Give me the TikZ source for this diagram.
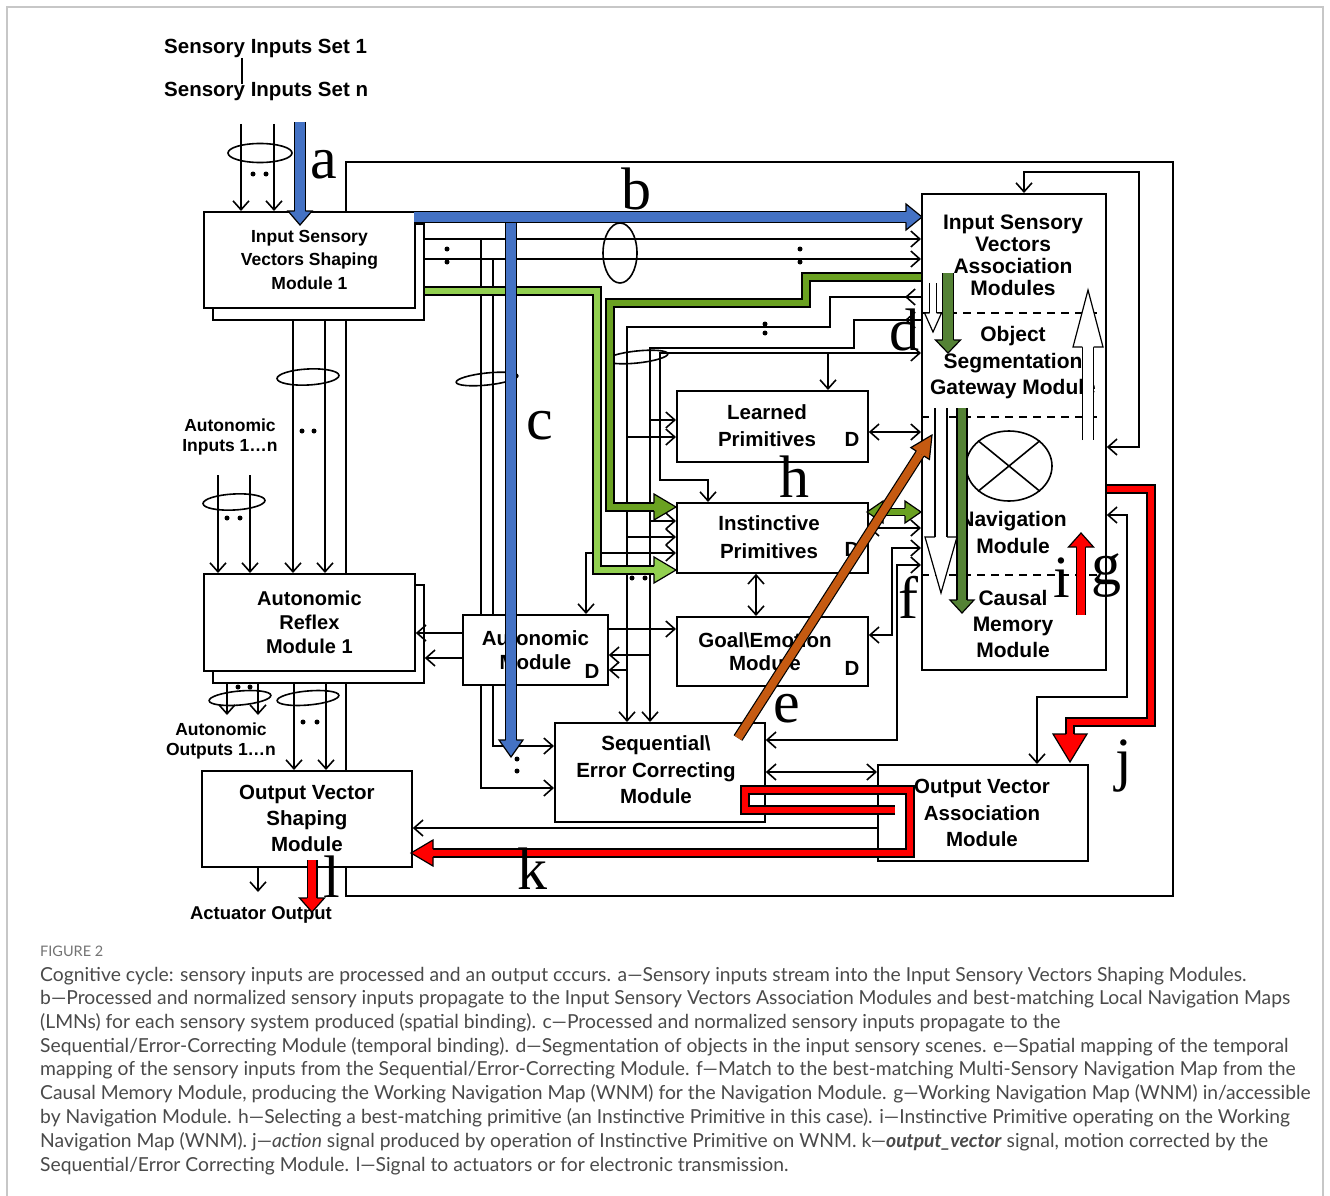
\documentclass[tikz,border=0pt]{standalone}
\usepackage{fontspec}
\setmainfont{Liberation Sans}
\newfontfamily\serifL{Liberation Serif}
\newfontfamily\capfont{Lato}
\usetikzlibrary{arrows.meta,calc,shapes.geometric}

\definecolor{cblue}{HTML}{4472C4}
\definecolor{lgreen}{HTML}{92D050}
\definecolor{mgreen}{HTML}{6AA121}
\definecolor{dgreen}{HTML}{548235}
\definecolor{cred}{HTML}{FF0000}
\definecolor{corange}{HTML}{C55A11}
\definecolor{capgrey}{HTML}{4A4A4A}

\newcommand\fsz[2]{\fontsize{#1pt}{#2pt}\selectfont}

% fat arrow head: colour, half shaft, half head, head length, from, tip
\newcommand\fathead[6]{%
  \path ($(#6)!#4!(#5)$) coordinate (fhB);
  \filldraw[fill=#1,draw=black,line width=1.2pt,line join=miter]
    ($(fhB)!#2!90:(#6)$) -- ($(fhB)!#3!90:(#6)$) -- (#6) --
    ($(fhB)!#3!-90:(#6)$) -- ($(fhB)!#2!-90:(#6)$);}
% straight fat arrow: colour, double distance, half shaft, half head, head length, from, tip
\newcommand\fatarrow[7]{%
  \path ($(#7)!#5!(#6)$) coordinate (faB);
  \draw[line width=1.2pt,double=#1,double distance=#2] (#6) -- (faB);
  \fathead{#1}{#3}{#4}{#5}{#6}{#7}}

\tikzset{
  ln/.style={line width=1.6pt},
  ar/.style={ln,-{Straight Barb[length=9pt,width=16pt]}},
  dar/.style={ln,{Straight Barb[length=9pt,width=16pt]}-{Straight Barb[length=9pt,width=16pt]}},
  box/.style={draw,line width=1.8pt,fill=white,inner sep=0pt,align=center,anchor=north west,
    font=\bfseries\fsz{20.5}{26}},
  shadowbox/.style={draw,line width=1.8pt,fill=white,inner sep=0pt,anchor=north west},
  txt/.style={inner sep=0pt,align=center,font=\bfseries\fsz{20.5}{26}},
  lbl/.style={inner sep=0pt,align=center,font=\bfseries\fsz{17.5}{19.5}},
  dl/.style={inner sep=0pt,font=\bfseries\fsz{20.5}{22}},
  letr/.style={inner sep=0pt,font=\serifL\fsz{60}{60}},
  dotm/.style={circle,fill=black,inner sep=0pt,minimum size=5pt},
  capline/.style={anchor=base west,inner sep=0pt,font=\capfont\fsz{19.3}{19.3},text=capgrey},
  fatpath/.style={line width=1.2pt,line join=miter,double=#1,double distance=6.8pt},
}

\begin{document}
\begin{tikzpicture}[x=1pt,y=-1pt]
\useasboundingbox (0,0) rectangle (1330,1196);
\fill[white] (0,0) rectangle (1330,1196);
\draw[line width=1.2pt,black!22] (7,1200) -- (7,7) -- (1323,7) -- (1323,1200);

% ---------- titles
\node[anchor=west,inner sep=0pt,font=\bfseries\fsz{20.5}{22}] (set1) at (164,48) {Sensory Inputs Set 1};
\node[anchor=west,inner sep=0pt,font=\bfseries\fsz{20.5}{22}] (setn) at (164,91) {Sensory Inputs Set n};
\draw[ln] (242,58) -- (242,84);

% ---------- boxes
\node[shadowbox,minimum width=211pt,minimum height=96pt] (isvsmS) at (212,223) {};
\node[box,minimum width=211pt,minimum height=96pt,font=\bfseries\fsz{17.5}{23.5}] (isvsm) at (203,211) {Input Sensory\\Vectors Shaping\\Module 1};
\node[shadowbox,minimum width=211pt,minimum height=98pt] (armS) at (212,584) {};
\node[box,minimum width=211pt,minimum height=97pt,font=\bfseries\fsz{20}{24}] (arm) at (203,573) {Autonomic\\Reflex\\Module 1};
\node[box,minimum width=210pt,minimum height=96pt] (ovsm) at (201,770) {Output Vector\\Shaping\\Module};
\node[box,minimum width=145pt,minimum height=70pt,font=\bfseries\fsz{20.5}{24}] (am) at (462,614) {};
\node[box,minimum width=191pt,minimum height=71pt,font=\bfseries\fsz{20.5}{27}] (lp) at (676,390) {};
\node[box,minimum width=191pt,minimum height=70pt,font=\bfseries\fsz{20.5}{28}] (ip) at (676,502) {};
\node[box,minimum width=191pt,minimum height=69pt,font=\bfseries\fsz{20.5}{23}] (ge) at (676,616) {};
\node[box,minimum width=210pt,minimum height=99pt] (secm) at (554,722) {};
\node[box,minimum width=210pt,minimum height=96pt] (ovam) at (877,764) {};
\node[box,minimum width=184pt,minimum height=476pt] (isvam) at (921,193) {};

% ---------- thin connectors
\draw[ar] (241,124) -- (isvsm.north -| 241,0);
\draw[ar] (274,124) -- (isvsm.north -| 274,0);
\draw[ln] (isvsm.north -| 346,0) -- (346,162) -- (1173,162) -- (1173,896) -- (346,896) -- (ovsm.south -| 346,0);
\draw[ln] (isvsmS.south -| 346,0) -- (arm.north -| 346,0);
\draw[ln] (armS.south -| 346,0) -- (ovsm.north -| 346,0);
\draw[ar] (isvsmS.south -| 293,0) -- (arm.north -| 293,0);
\draw[ar] (isvsmS.south -| 325,0) -- (arm.north -| 325,0);
\draw[ar] (218,475) -- (arm.north -| 218,0);
\draw[ar] (250,475) -- (arm.north -| 250,0);
\draw[ar] (armS.south -| 227,0) -- (227,715);
\draw[ar] (armS.south -| 258,0) -- (258,715);
\draw[ar] (armS.south -| 294,0) -- (ovsm.north -| 294,0);
\draw[ar] (armS.south -| 326,0) -- (ovsm.north -| 326,0);
\draw[ar] (ovsm.south -| 258,0) -- (258,892);

\draw[ar] (isvsmS.east |- 0,239) -- (isvam.west |- 0,239);
\draw[ar] (isvsmS.east |- 0,259) -- (isvam.west |- 0,259);
\draw[ar] (481,239) -- (481,788) -- (secm.west |- 0,788);
\draw[ar] (493,259) -- (493,746) -- (secm.west |- 0,746);

\draw[ar] (isvam.west |- 0,297) -- (830,297) -- (830,327) -- (627,327) -- (secm.north -| 627,0);
\draw[ar] (isvam.west |- 0,297) -- (905,297);
\draw[ar] (isvam.west |- 0,320) -- (854,320) -- (854,348) -- (650,348) -- (secm.north -| 650,0);
\draw[ar] (isvam.west |- 0,320) -- (905,320);
\draw[dar] (ip.north -| 708,0) -- (708,480) -- (660,480) -- (660,353) -- (isvam.west |- 0,353);
\draw[ar] (828,353) -- (lp.north -| 828,0);
\draw[ar] (650,420) -- (lp.west |- 0,420);
\draw[ar] (627,437) -- (lp.west |- 0,437);
\draw[ar] (650,521) -- (ip.west |- 0,521);
\draw[ar] (627,537) -- (ip.west |- 0,537);
\draw[dar] (am.north -| 586,0) -- (586,553) -- (ip.west |- 0,553);
\draw[ar] (650,655) -- (am.east |- 0,655);
\draw[ar] (627,670) -- (am.east |- 0,670);
\draw[ar] (am.east |- 0,629) -- (ge.west |- 0,629);
\draw[dar] (ip.south -| 756,0) -- (ge.north -| 756,0);
\draw[dar] (lp.east |- 0,432) -- (isvam.west |- 0,432);
\draw[dar] (ip.east |- 0,528) -- (isvam.west |- 0,528);
\draw[dar] (ge.east |- 0,635) -- (892,635) -- (892,548) -- (isvam.west |- 0,548);
\draw[dar] (secm.east |- 0,740) -- (897,740) -- (897,565) -- (isvam.west |- 0,565);
\draw[dar] (secm.east |- 0,772) -- (ovam.west |- 0,772);
\draw[ar] (ovam.west |- 0,828) -- (ovsm.east |- 0,828);
\draw[dar] (isvam.east |- 0,447) -- (1139,447) -- (1139,172) -- (1024,172) -- (isvam.north -| 1024,0);
\draw[dar] (isvam.east |- 0,515) -- (1127,515) -- (1127,697) -- (1037,697) -- (ovam.north -| 1037,0);
\draw[ar] (am.west |- 0,633) -- (arm.east |- 0,633);
\draw[ar] (am.west |- 0,658) -- (armS.east |- 0,658);

% redraw boxes on top of passing lines
\node[box,minimum width=145pt,minimum height=70pt,font=\bfseries\fsz{20.5}{24}] (am2) at (462,614) {Autonomic\\Module};
\node[dl] (amD) at (592,671) {D};
\node[txt,font=\bfseries\fsz{20.5}{27}] (lpT) at (767,425.5) {Learned\\Primitives};
\node[dl] (lpD) at (852,439) {D};
\node[txt,font=\bfseries\fsz{20.5}{28}] (ipT) at (769,537) {Instinctive\\Primitives};
\node[dl] (ipD) at (852,549) {D};
\node[txt,font=\bfseries\fsz{20.5}{23}] (geT) at (765,652) {Goal\textbackslash Emotion\\Module};
\node[dl] (geD) at (852,668) {D};
\node[txt,font=\bfseries\fsz{20.5}{26.5}] (secmT) at (656,770) {Sequential\textbackslash\\Error Correcting\\Module};
\node[txt,font=\bfseries\fsz{20.5}{26.5}] (ovamT) at (982,813) {Output Vector\\Association\\Module};

% ISVAM interior
\draw[ln,dash pattern=on 8pt off 6pt] (isvam.west |- 0,313) -- (1100,313);
\draw[ln,dash pattern=on 8pt off 6pt] (isvam.west |- 0,417) -- (1100,417);
\draw[ln,dash pattern=on 8pt off 6pt] (isvam.west |- 0,575) -- (1100,575);
\node[txt,font=\bfseries\fsz{21}{22}] (isvT1) at (1013,255) {Input Sensory\\Vectors\\Association\\Modules};
\node[txt,font=\bfseries\fsz{21}{26.5}] (isvT2) at (1013,363) {Object\\Segmentation\\Gateway Module};
\node[draw,ellipse,line width=1.6pt,minimum width=86pt,minimum height=70pt,inner sep=0pt] (nav) at (1009,466) {};
\draw[ln] (nav.north east) -- (nav.south west);
\draw[ln] (nav.north west) -- (nav.south east);
\node[txt,font=\bfseries\fsz{21}{27}] (isvT3) at (1013,532.5) {Navigation\\Module};
\node[txt,font=\bfseries\fsz{21}{26}] (isvT4) at (1013,624) {Causal\\Memory\\Module};

% labels
\node[lbl] (ain) at (230,437) {Autonomic\\Inputs 1…n};
\node[lbl] (aout) at (221,741) {Autonomic\\Outputs 1…n};
\node[inner sep=0pt,font=\bfseries\fsz{18.5}{20}] (act) at (261,915) {Actuator Output};

% ellipses
\draw[ln] (260,153) ellipse [x radius=32pt,y radius=9.5pt];
\draw[ln,rotate around={3:(308,377)}] (308,377) ellipse [x radius=31pt,y radius=8pt];
\draw[ln,rotate around={3:(234,502)}] (234,502) ellipse [x radius=31pt,y radius=8pt];
\draw[ln,rotate around={5:(240,698)}] (240,698) ellipse [x radius=31pt,y radius=7pt];
\draw[ln,rotate around={5:(308,698)}] (308,698) ellipse [x radius=31pt,y radius=7pt];
\draw[ln] (620,253) ellipse [x radius=17pt,y radius=30pt];
\draw[ln,rotate around={6:(487,379)}] (487,379) ellipse [x radius=31pt,y radius=6pt];
\draw[ln,rotate around={6:(637,357)}] (637,357) ellipse [x radius=31pt,y radius=6pt];

% dots
\foreach \p in {(253,174),(266,174),(302,431),(314,431),(227,518),(240,518),
  (238,687),(250,687),(303,722),(317,722),(447,249),(447,262),(800,249),(800,262),
  (765,324),(765,333),(632,578),(645,578),(517,759),(517,771)}
  \node[dotm] at \p {};

% ---------- thick coloured arrows
\draw[fatpath=lgreen] (isvsmS.east |- 0,291) -- (597,291) -- (597,570) -- (654,570);
\fathead{lgreen}{4pt}{13pt}{22pt}{597,570}{676,570}
\draw[fatpath=mgreen] (isvam.west |- 0,277) -- (806,277) -- (806,303) -- (610,303) -- (610,507) -- (654,507);
\fathead{mgreen}{4pt}{13pt}{22pt}{610,507}{676,507}

\fatarrow{cblue}{9.6pt}{5.4pt}{12pt}{14pt}{300,122}{300,225}
\fatarrow{cblue}{9.6pt}{5.4pt}{13pt}{16pt}{414,217}{922,217}
\fatarrow{cblue}{9.6pt}{5.4pt}{12pt}{17pt}{511,222.5}{511,757}

% green double arrow IP <-> ISVAM
\draw[line width=1.2pt,double=mgreen,double distance=6.4pt] (883,512) -- (905,512);
\fathead{mgreen}{3.8pt}{11pt}{16pt}{921,512}{867,512}
\fathead{mgreen}{3.8pt}{11pt}{16pt}{867,512}{921,512}

% orange e
\fatarrow{corange}{8pt}{4.6pt}{11pt}{22pt}{738,738}{932,435}

% ISVAM interior arrows
\fatarrow{white}{5.8pt}{3.5pt}{8.5pt}{19pt}{933,283}{933,332}
\fatarrow{dgreen}{9.8pt}{5.5pt}{12.5pt}{13pt}{948,273}{948,353}
\fatarrow{white}{10pt}{5.6pt}{15pt}{57pt}{1088,440}{1088,290}
\fatarrow{white}{10.8pt}{6pt}{16pt}{56pt}{941,408}{941,593}
\fatarrow{dgreen}{8.8pt}{5pt}{12pt}{13pt}{962,408}{962,613}
\fatarrow{cred}{7.8pt}{4.5pt}{12.5pt}{14pt}{1081,615}{1081,533}

% red j
\draw[fatpath=cred] (isvam.east |- 0,489) -- (1151,489) -- (1151,722) -- (1070,722) -- (1070,734);
\fathead{cred}{4pt}{17pt}{28pt}{1070,722}{1070,762}
% red k
\draw[fatpath=cred] (895,810) -- (745,810) -- (745,790) -- (910,790) -- (910,853) -- (433,853);
\fathead{cred}{4pt}{13pt}{22pt}{910,853}{411,853}
% red l
\fatarrow{cred}{8.6pt}{4.9pt}{12.5pt}{14pt}{312,860}{312,912}

% ---------- letters
\node[letr] (la) at (324,165) {a};
\node[letr] (lb) at (636,189) {b};
\node[letr] (lc) at (540,426) {c};
\node[letr] (ld) at (904,330) {d};
\node[letr] (le) at (787,709) {e};
\node[letr] (lf) at (908,597) {f};
\node[letr] (lg) at (1106,576) {g};
\node[letr] (lh) at (794,477) {h};
\node[letr] (li) at (1062,578) {i};
\node[letr] (lj) at (1124,766) {j};
\node[letr] (lk) at (532,869) {k};
\node[letr] (ll) at (332,877) {l};

% ---------- caption
\node[anchor=base west,inner sep=0pt,font=\capfont\fsz{14.5}{14.5},text=black!55] (fig) at (40,956) {FIGURE 2};
\node[capline] (c1) at (40,981) {Cognitive cycle: sensory inputs are processed and an output cccurs. a—Sensory inputs stream into the Input Sensory Vectors Shaping Modules.};
\node[capline] (c2) at (40,1004.5) {b—Processed and normalized sensory inputs propagate to the Input Sensory Vectors Association Modules and best-matching Local Navigation Maps};
\node[capline] (c3) at (40,1028) {(LMNs) for each sensory system produced (spatial binding). c—Processed and normalized sensory inputs propagate to the};
\node[capline] (c4) at (40,1052) {Sequential/Error-Correcting Module (temporal binding). d—Segmentation of objects in the input sensory scenes. e—Spatial mapping of the temporal};
\node[capline] (c5) at (40,1075.5) {mapping of the sensory inputs from the Sequential/Error-Correcting Module. f—Match to the best-matching Multi-Sensory Navigation Map from the};
\node[capline] (c6) at (40,1099) {Causal Memory Module, producing the Working Navigation Map (WNM) for the Navigation Module. g—Working Navigation Map (WNM) in/accessible};
\node[capline] (c7) at (40,1123) {by Navigation Module. h—Selecting a best-matching primitive (an Instinctive Primitive in this case). i—Instinctive Primitive operating on the Working};
\node[capline] (c8) at (40,1147) {Navigation Map (WNM). j—\textit{action} signal produced by operation of Instinctive Primitive on WNM. k—\textbf{\textit{output\_vector}} signal, motion corrected by the};
\node[capline] (c9) at (40,1171) {Sequential/Error Correcting Module. l—Signal to actuators or for electronic transmission.};
\end{tikzpicture}
\end{document}
